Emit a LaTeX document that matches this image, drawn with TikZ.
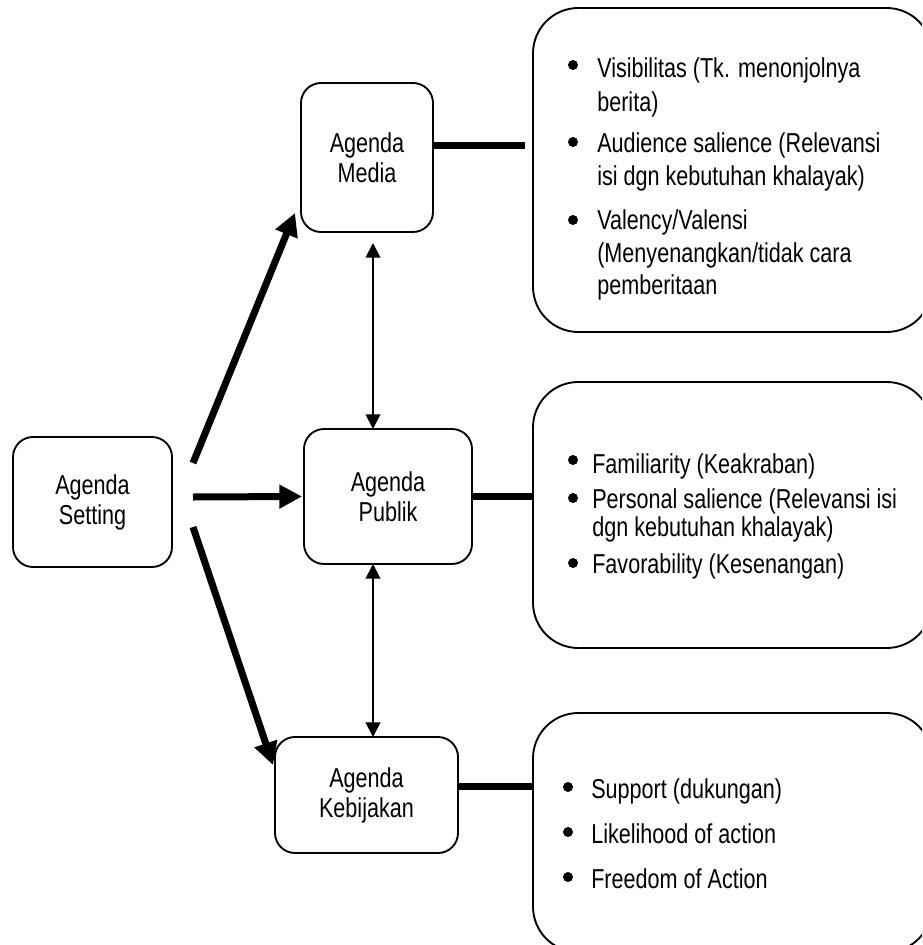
\documentclass[tikz,border=0pt]{standalone}
\usepackage{fontspec}
\setmainfont[FakeStretch=0.79]{Liberation Sans}
\usetikzlibrary{arrows.meta,calc}
\begin{document}
\begin{tikzpicture}[x=0.75pt,y=-0.75pt,
  agbox/.style={draw, line width=1.4pt, rounded corners=15pt, align=center,
    font=\fontsize{20.5}{22.5}\selectfont, inner sep=0pt, outer sep=0pt},
  bigbox/.style={draw, line width=1.4pt, rounded corners=34pt, inner sep=0pt, outer sep=0pt},
  itemtxt/.style={anchor=mid west, inner sep=0pt, font=\fontsize{20.5}{24}\selectfont},
  bul/.style={circle, fill, inner sep=0pt, minimum size=7.5pt},
  thickarr/.style={line width=5.25pt, -{Triangle[length=17pt,width=17pt]}},
  thinarr/.style={line width=1.5pt, {Triangle[length=11pt,width=11pt]}-{Triangle[length=11pt,width=11pt]}},
  thickline/.style={line width=5.25pt}]
\useasboundingbox (0,0) rectangle (922,945);
\clip (0,0) rectangle (922,945);

% agenda boxes
\node[agbox, minimum width=119.25pt, minimum height=97.5pt] (setting) at (92.5,502) {Agenda\\Setting};
\node[agbox, minimum width=99pt, minimum height=111.75pt] (media) at (367,157.5) {Agenda\\Media};
\node[agbox, minimum width=126pt, minimum height=101.25pt] (publik) at (388,496.5) {Agenda\\Publik};
\node[agbox, minimum width=137.25pt, minimum height=87pt] (keb) at (366.5,795) {Agenda\\Kebijakan};

% big boxes
\node[bigbox, minimum width=299.25pt, minimum height=243pt] (rt) at (732.5,170) {};
\node[bigbox, minimum width=299.25pt, minimum height=199.5pt] (rm) at (732.5,515) {};
\node[bigbox, minimum width=299.25pt, minimum height=179.25pt] (rb) at (732.5,832.5) {};

% top box items
\node[bul] (b1) at (573,65) {};
\node[itemtxt] (t1a) at (597,74) {Visibilitas (Tk. menonjolnya};
\node[itemtxt] (t1b) at (597,108) {berita)};
\node[bul] (b2) at (573,142) {};
\node[itemtxt] (t2a) at (597,149) {Audience salience (Relevansi};
\node[itemtxt] (t2b) at (597,182) {isi dgn kebutuhan khalayak)};
\node[bul] (b3) at (573,220) {};
\node[itemtxt] (t3a) at (597,226) {Valency/Valensi};
\node[itemtxt] (t3b) at (597,259) {(Menyenangkan/tidak cara};
\node[itemtxt] (t3c) at (597,291) {pemberitaan};

% middle box items
\node[bul] (b4) at (573,460) {};
\node[itemtxt] (t4a) at (592,470) {Familiarity (Keakraban)};
\node[bul] (b5) at (573,498) {};
\node[itemtxt] (t5a) at (592,505) {Personal salience (Relevansi isi};
\node[itemtxt] (t5b) at (592,533) {dgn kebutuhan khalayak)};
\node[bul] (b6) at (573,563) {};
\node[itemtxt] (t6a) at (592,570) {Favorability (Kesenangan)};

% bottom box items
\node[bul] (b7) at (568,787) {};
\node[itemtxt] (t7a) at (591,795) {Support (dukungan)};
\node[bul] (b8) at (568,832) {};
\node[itemtxt] (t8a) at (591,840) {Likelihood of action};
\node[bul] (b9) at (568,877) {};
\node[itemtxt] (t9a) at (591,885) {Freedom of Action};

% thick arrows from Agenda Setting
\coordinate (s1) at (193,463);
\coordinate (s2) at (193,497);
\coordinate (s3) at (193,527);
\draw[thickarr] (s1) -- ([shift={(-6,-19)}]media.south west);
\draw[thickarr] (s2) -- ([shift={(-2,0)}]publik.west);
\draw[thickarr] (s3) -- ([shift={(-2,28)}]keb.north west);

% thin double arrows
\coordinate (vx) at (373,0);
\draw[thinarr] ($(vx |- media.south)+(0,11)$) -- (vx |- publik.north);
\draw[thinarr] (vx |- publik.south) -- (vx |- keb.north);

% thick connectors to the right boxes
\draw[thickline] ($(media.east)+(0,-11.5)$) -- ($(rt.west |- media.east)+(-8,-11.5)$);
\draw[thickline] (publik.east) -- (publik.east -| rm.west);
\draw[thickline] ($(keb.east)+(0,-9)$) -- ($(keb.east -| rb.west)+(0,-9)$);
\end{tikzpicture}
\end{document}
